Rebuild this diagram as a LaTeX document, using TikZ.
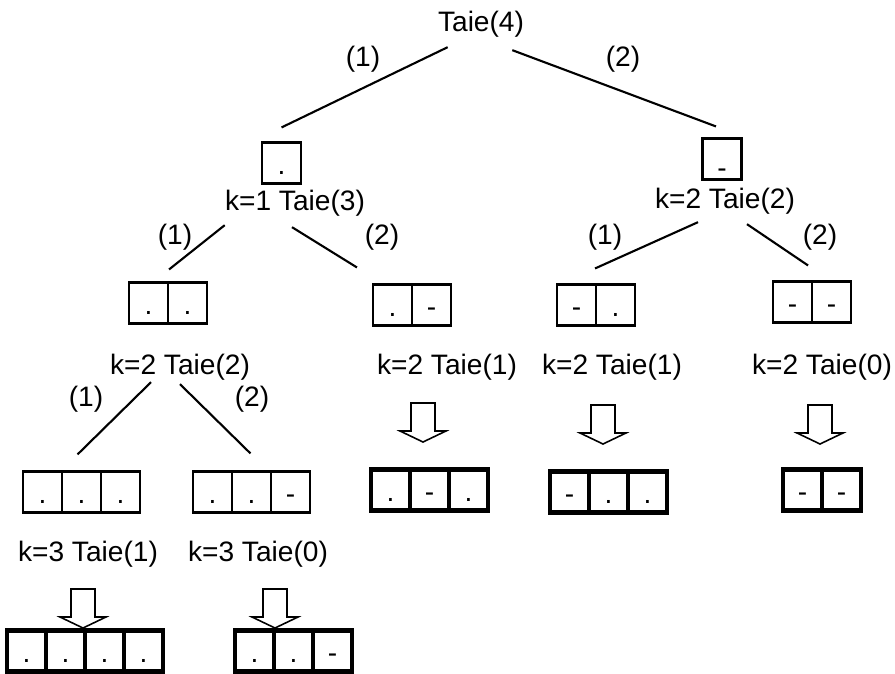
\documentclass[tikz,border=0pt]{standalone}
\usepackage{fontspec}
\setmainfont{Liberation Sans}
\usetikzlibrary{calc}

\tikzset{
	cell/.style={draw, line width=1.2pt, inner sep=0pt, minimum width=0.78cm, minimum height=0.82cm, text height=13pt, text depth=0pt},
	final/.style={cell, line width=2.4pt},
	lbl/.style={inner sep=0pt, anchor=base},
	edge/.style={line width=1.2pt},
	hollow/.style={draw, line width=0.9pt, fill=white, line join=miter}
}
\newcommand{\cellrow}[5][cell]{%
	\foreach \m [count=\i] in {#5}
		\node[#1] (#2-\i) at ({#3+(\i-0.5)*39},#4) {\m};
}

\begin{document}
\begin{tikzpicture}[x=0.02cm, y=-0.02cm, font=\fontsize{16}{19}\selectfont]
		\useasboundingbox (0,0) rectangle (895,673);
		\node[lbl] (root) at (481,31) {Taie(4)};
		\node[lbl] (c1) at (363,66) {(1)};
		\node[lbl] (c2) at (623,66) {(2)};
		\cellrow{b1}{262}{163}{.}
		\node[cell] (b2-1) at (722,159) {\raisebox{-4pt}{-}};
		\node[lbl] (L1) at (295,210) {k=1 Taie(3)};
		\node[lbl] (R1) at (725,208) {k=2 Taie(2)};
		\node[lbl] (c11) at (175,244) {(1)};
		\node[lbl] (c12) at (382,244) {(2)};
		\node[lbl] (c21) at (605,244) {(1)};
		\node[lbl] (c22) at (820,244) {(2)};
		\cellrow{b11}{129}{303}{.,.}
		\cellrow{b12}{373}{305}{.,-}
		\cellrow{b21}{557}{305}{-,.}
		\cellrow{b22}{773}{302}{-,-}
		\node[lbl] (L2) at (180,374) {k=2 Taie(2)};
		\node[lbl] (L12) at (447,374) {k=2 Taie(1)};
		\node[lbl] (L21) at (612,374) {k=2 Taie(1)};
		\node[lbl] (L22) at (822,374) {k=2 Taie(0)};
		\node[lbl] (c111) at (86,406) {(1)};
		\node[lbl] (c112) at (252,406) {(2)};
		\cellrow{b111}{23}{492}{.,.,.}
		\cellrow{b112}{193}{492}{.,.,-}
		\node[lbl] (L111) at (88,561) {k=3 Taie(1)};
		\node[lbl] (L112) at (258,561) {k=3 Taie(0)};
		\cellrow[final]{r12}{371}{490}{.,-,.}
		\cellrow[final]{r21}{550}{492}{-,.,.}
		\cellrow[final]{r22}{783}{490}{-,-}
		\cellrow[final]{r111}{7}{651}{.,.,.,.}
		\cellrow[final]{r112}{235}{651}{.,.,-}
		\draw[edge] ($(root.south west)+(10,10)$) -- ($(b1-1.north)+(0,-14)$);
		\draw[edge] ($(root.south east)+(-12,13)$) -- ($(b2-1.north)+(-6,-11)$);
		\draw[edge] ($(L1.south west)+(0,9)$) -- ($(b11-1.north east)+(0,-12)$);
		\draw[edge] ($(L1.south)+(-3,11)$) -- ($(b12-1.north west)+(-15,-16)$);
		\draw[edge] ($(R1.south)+(-27,8)$) -- ($(b21-1.north east)+(-2,-15)$);
		\draw[edge] ($(R1.south)+(22,10)$) -- ($(b22-1.north east)+(-5,-15)$);
		\draw[edge] ($(L2.south)+(-29,2)$) -- ($(b111-2.north)+(-4,-16)$);
		\draw[edge] ($(L2.south)+(0,4)$) -- ($(b112-2.north)+(-1,-17)$);
		\foreach \ax/\ay in {423/403, 603/405, 820/405, 83/589, 275/589}
			\draw[hollow] (\ax-12,\ay) -- (\ax+12,\ay) -- (\ax+12,\ay+28) -- (\ax+23,\ay+28)
				-- (\ax,\ay+39) -- (\ax-23,\ay+28) -- (\ax-12,\ay+28) -- cycle;
		\end{tikzpicture}
\end{document}
